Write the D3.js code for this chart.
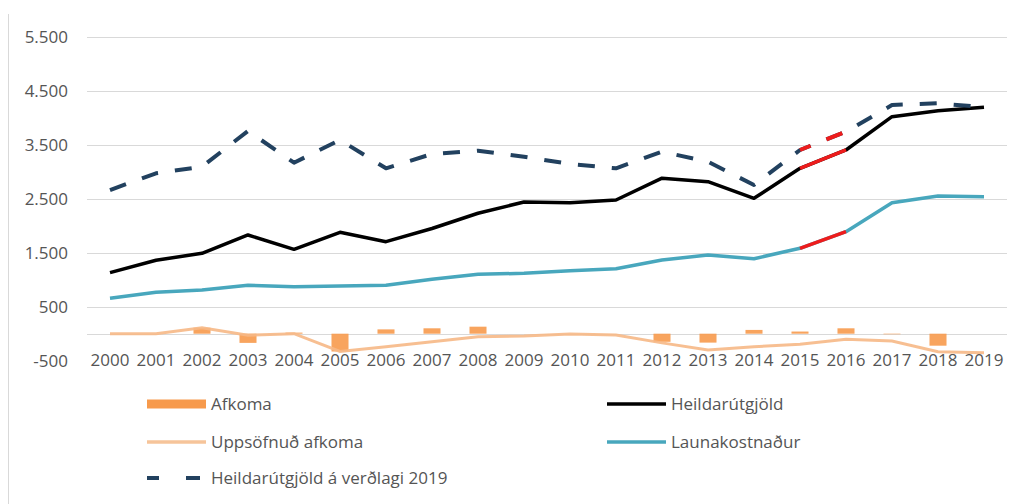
<!DOCTYPE html>
<html>
<head>
<meta charset="utf-8">
<script src="https://cdn.jsdelivr.net/npm/d3@7"></script>
<style>
  body { margin: 0; background: #fff; }
  text { font-family: "Open Sans", sans-serif; fill: #555; }
</style>
</head>
<body>
<div class="chart"></div>
<script>
// data
let years = ["2000","2001","2002","2003","2004","2005","2006","2007","2008","2009",
             "2010","2011","2012","2013","2014","2015","2016","2017","2018","2019"];
let afkoma = [0, 0, 110, -170, 20, -330, 80, 100, 130, 0,
              0, 0, -150, -165, 70, 40, 100, -10, -222, 0];
let uppsofnud = [0, 0, 111, -30, 0, -330, -240, -148, -56, -43,
                 -6, -24, -170, -302, -240, -197, -104, -135, -333, -352];
let heild = [1130, 1360, 1489, 1828, 1563, 1878, 1704, 1948, 2230, 2439,
             2426, 2476, 2880, 2815, 2507, 3063, 3402, 4019, 4130, 4193];
let launa = [655, 766, 809, 896, 870, 883, 896, 1007, 1100, 1118,
             1167, 1204, 1365, 1457, 1389, 1581, 1889, 2426, 2550, 2537];
let heild2019 = [2661, 2970, 3093, 3754, 3167, 3587, 3063, 3328, 3389, 3278,
                 3143, 3063, 3370, 3185, 2754, 3402, 3741, 4235, 4267, 4193];
let yTicks = [-500, 500, 1500, 2500, 3500, 4500, 5500];
let redFrom = "2015", redTo = "2016";

let W = 1017, H = 504;
let fontSize = "17px";

let svg = d3.select(".chart").append("svg").attr("width", W).attr("height", H);

let loc = d3.formatLocale({decimal: ",", thousands: ".", grouping: [3], currency: ["", ""], minus: "-"});
let fmt = loc.format(",.0f");

let x = d3.scaleBand().domain(years).range([87, 1007]).paddingInner(0.63).paddingOuter(0.315);
let y = d3.scaleLinear().domain([-500, 5500]).range([360.7, 36.7]);
let cx = d => x(d) + x.bandwidth() / 2;

// left border line
svg.append("line").attr("x1", 8.5).attr("x2", 8.5).attr("y1", 14).attr("y2", H)
  .attr("stroke", "#d9d9d9").attr("stroke-width", 1);

// gridlines (incl. zero line)
svg.append("g").selectAll("line").data(yTicks.filter(t => t > 0).concat([0])).enter().append("line")
  .attr("x1", 87).attr("x2", 1007)
  .attr("y1", d => Math.round(y(d)) + 0.5).attr("y2", d => Math.round(y(d)) + 0.5)
  .attr("stroke", "#d9d9d9").attr("stroke-width", 1);

// y axis labels
let yAxis = svg.append("g").attr("transform", "translate(68,0)")
  .call(d3.axisLeft(y).tickValues(yTicks).tickFormat(fmt).tickSize(0).tickPadding(0));
yAxis.select(".domain").remove();
yAxis.selectAll("text").style("font-size", fontSize).attr("fill", "#555")
  .style("font-family", "'Open Sans', sans-serif");

// bars
svg.append("g").selectAll("rect").data(afkoma).enter().append("rect")
  .attr("x", (d, i) => x(years[i]))
  .attr("width", x.bandwidth())
  .attr("y", d => y(Math.max(0, d)))
  .attr("height", d => Math.abs(y(d) - y(0)))
  .attr("fill", "#f79a4c").attr("opacity", 0.9);

let line = d3.line().x(d => cx(d.year)).y(d => y(d.val));
let toPts = arr => arr.map((v, i) => ({year: years[i], val: v}));
let redPart = pts => pts.filter(p => p.year >= redFrom && p.year <= redTo);

// uppsöfnuð afkoma
svg.append("path").attr("d", line(toPts(uppsofnud)))
  .attr("fill", "none").attr("stroke", "#f6b886").attr("stroke-width", 3).attr("opacity", 0.9);

// launakostnaður
svg.append("path").attr("d", line(toPts(launa)))
  .attr("fill", "none").attr("stroke", "#48a7bd").attr("stroke-width", 3.5).attr("stroke-linejoin", "round");
svg.append("path").attr("d", line(redPart(toPts(launa))))
  .attr("fill", "none").attr("stroke", "#ee1c1c").attr("stroke-width", 3.5);

// heildarútgjöld
svg.append("path").attr("d", line(toPts(heild)))
  .attr("fill", "none").attr("stroke", "#000").attr("stroke-width", 3.5).attr("stroke-linejoin", "round");
svg.append("path").attr("d", line(redPart(toPts(heild))))
  .attr("fill", "none").attr("stroke", "#ee1c1c").attr("stroke-width", 3.5);

// heildarútgjöld á verðlagi 2019
let dash = "17,17";
let dPts = toPts(heild2019);
svg.append("path").attr("d", line(dPts))
  .attr("fill", "none").attr("stroke", "#22415f").attr("stroke-width", 4)
  .attr("stroke-dasharray", dash).attr("stroke-linejoin", "round");
let before = svg.append("path").attr("d", line(dPts.filter(p => p.year <= redFrom)))
  .attr("fill", "none").attr("stroke", "none");
let offset = before.node().getTotalLength();
before.remove();
svg.append("path").attr("d", line(redPart(dPts)))
  .attr("fill", "none").attr("stroke", "#ee1c1c").attr("stroke-width", 4)
  .attr("stroke-dasharray", dash).attr("stroke-dashoffset", offset);

// x labels
svg.append("g").selectAll("text").data(years).enter().append("text")
  .attr("x", d => cx(d)).attr("y", 366)
  .attr("text-anchor", "middle").style("font-size", fontSize)
  .text(d => d);

// legend
let legend = [
  {name: "Afkoma", type: "bar", color: "#f79a4c", x: 147, y: 404},
  {name: "Heildarútgjöld", type: "line", color: "#000", x: 607, y: 404},
  {name: "Uppsöfnuð afkoma", type: "line", color: "#f6c49a", x: 147, y: 442},
  {name: "Launakostnaður", type: "line", color: "#48a7bd", x: 607, y: 442},
  {name: "Heildarútgjöld á verðlagi 2019", type: "dash", color: "#22415f", x: 147, y: 478}
];
let lg = svg.append("g").selectAll("g").data(legend).enter().append("g")
  .attr("transform", d => `translate(${d.x},${d.y})`);
lg.filter(d => d.type === "bar").append("rect")
  .attr("x", 0).attr("y", -4.5).attr("width", 59).attr("height", 9).attr("fill", d => d.color);
lg.filter(d => d.type !== "bar").append("line")
  .attr("x1", 0).attr("x2", 59).attr("y1", 0).attr("y2", 0)
  .attr("stroke", d => d.color).attr("stroke-width", d => d.type === "dash" ? 4 : 3.5)
  .attr("stroke-dasharray", d => d.type === "dash" ? "12,27,14" : null);
lg.append("text").attr("x", 64).attr("y", 0).attr("dy", "0.36em")
  .style("font-size", fontSize).text(d => d.name);
</script>
</body>
</html>
